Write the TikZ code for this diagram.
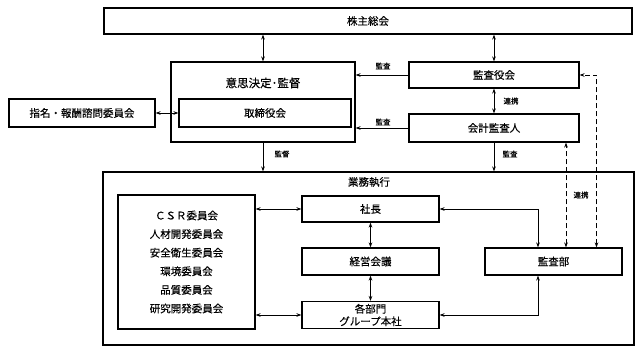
\documentclass[tikz,border=0pt]{standalone}
\usepackage{fontspec}
\setmainfont{Noto Sans CJK JP}[FakeBold=0.35]
\usepackage{tikz}
\usetikzlibrary{positioning}
\usetikzlibrary{arrows.meta}

\tikzset{
  box/.style={draw,line width=1.2pt,inner sep=0pt,align=center,font=\fontsize{10.5}{12}\selectfont},
  note/.style={inner sep=0pt,font=\fontsize{7.5}{9}\selectfont},
  arr/.style={line width=0.9pt,-{Stealth[length=5pt,width=3.6pt]}},
  biarr/.style={line width=0.9pt,{Stealth[length=5pt,width=3.6pt]}-{Stealth[length=5pt,width=3.6pt]}},
  dasharr/.style={biarr,dash pattern=on 5pt off 3pt}
}

\begin{document}
\begin{tikzpicture}[x=1pt,y=-1pt]
\useasboundingbox (0,0) rectangle (641,353);

    % upper part
    \node[box,minimum width=528,minimum height=26] (soukai) at (368,21) {株主総会};
    \node[box,minimum width=184,minimum height=80] (kantoku) at (263,102) {};
    \node[inner sep=0pt,font=\fontsize{11.5}{13}\selectfont] (kantokulbl) at (263,83) {意思決定･監督};
    \node[box,minimum width=172,minimum height=28] (torishimari) at (265,113) {取締役会};
    \node[box,minimum width=146,minimum height=28] (shimei) at (82,113) {指名・報酬諮問委員会};
    \node[box,minimum width=170,minimum height=26] (kansayaku) at (494,75) {監査役会};
    \node[box,minimum width=170,minimum height=28] (kaikei) at (494,128) {会計監査人};

    % lower part
    \node[box,minimum width=531,minimum height=173] (gyomu) at (368.5,258.5) {};
    \node[inner sep=0pt,font=\fontsize{10.5}{12}\selectfont] (gyomulbl) at (369,182) {業務執行};
    \node[box,minimum width=137,minimum height=134,font=\fontsize{10.5}{18.6}\selectfont] (iinkai) at (186.5,262)
        {ＣＳＲ委員会\\人材開発委員会\\安全衛生委員会\\環境委員会\\品質委員会\\研究開発委員会};
    \node[box,minimum width=137,minimum height=26] (shacho) at (370.5,209) {社長};
    \node[box,minimum width=137,minimum height=27] (keiei) at (370.5,261.5) {経営会議};
    \node[box,minimum width=137,minimum height=27,font=\fontsize{10.5}{12.5}\selectfont] (kakubu) at (370.5,315) {各部門\\グループ本社};
    \node[box,minimum width=137,minimum height=27] (kansabu) at (553.5,261.5) {監査部};

    % connectors
    \draw[biarr] (soukai.south -| kantoku.north) -- (kantoku.north);
    \draw[biarr] (soukai.south -| kansayaku.north) -- (kansayaku.north);
    \draw[arr] (kansayaku.west) -- (kansayaku.west -| kantoku.east);
    \draw[arr] (kaikei.west) -- (kaikei.west -| kantoku.east);
    \draw[biarr] (kansayaku.south) -- (kaikei.north);
    \draw[biarr] (shimei.east) -- (torishimari.west);
    \draw[arr] (kantoku.south) -- (kantoku.south |- gyomu.north);
    \draw[arr] (kaikei.south) -- (kaikei.south |- gyomu.north);
    \draw[dasharr] ([xshift=12.5pt]kansabu.north) -- ([xshift=12.5pt]kansabu.north |- kaikei.south);
    \draw[dasharr] ([xshift=43pt]kansabu.north) |- (kansayaku.east);

    \draw[biarr] (iinkai.east |- shacho.west) -- (shacho.west);
    \draw[biarr] (iinkai.east |- kakubu.west) -- (kakubu.west);
    \draw[biarr] (shacho.south) -- (keiei.north);
    \draw[biarr] (keiei.south) -- (kakubu.north);
    \draw[biarr] (shacho.east) -| ([xshift=-15.5pt]kansabu.north);
    \draw[biarr] (kakubu.east) -| ([xshift=-15.5pt]kansabu.south);

    % labels on connectors
    \node[note] (l1) at (383,66) {監査};
    \node[note] (l2) at (383,122) {監査};
    \node[note] (l3) at (511,101) {連携};
    \node[note] (l4) at (282,154) {監督};
    \node[note] (l5) at (510,154) {監査};
    \node[note] (l6) at (581,195) {連携};

\end{tikzpicture}
\end{document}
